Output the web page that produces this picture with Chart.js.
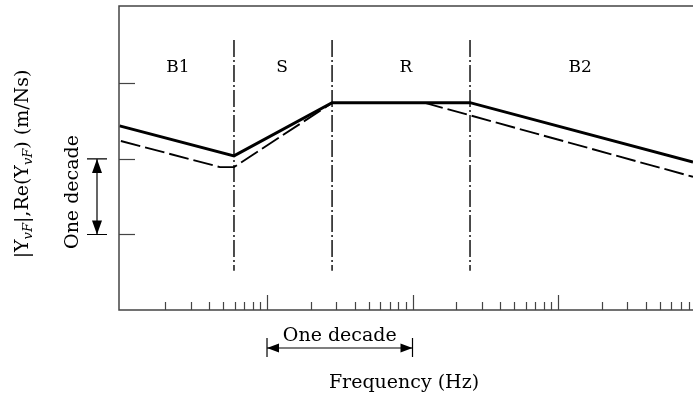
<!DOCTYPE html>
<html>
<head>
<meta charset="utf-8">
<script src="https://cdn.jsdelivr.net/npm/chart.js@4.4.1/dist/chart.umd.min.js"></script>
<style>
  html, body { margin: 0; padding: 0; background: #fff; }
  #wrap { width: 693px; height: 398px; }
</style>
</head>
<body>
<div id="wrap"><canvas id="mobility"></canvas></div>
<script>
// --- data (frequency in Hz, mobility in m/Ns) ---
const freqSolid = [9.7, 59.3, 280, 2485, 84700];
const mobSolid = [2.74, 1.10, 5.57, 5.57, 0.91];
const freqDashed = [9.9, 47.5, 59.3, 280, 1219, 84700];
const mobDashed = [1.73, 0.78, 0.78, 5.52, 5.52, 0.58];

const bandEdges = [59.3, 280, 2485];
const bandNames = ['B1', 'S', 'R', 'B2'];
const bandLabelFreq = [24.4, 127, 902, 14200];

const yTicks = [0.1, 1, 10];
const xMajorTicks = [100, 1000, 10000];
const xDecades = [10, 100, 1000, 10000];
const xMinorSteps = [2, 3, 4, 5, 6, 7, 8, 9];

const SERIF = '"DejaVu Serif", "Liberation Serif", serif';
const FRAME = '#444';

function pts(xs, ys) {
  return xs.map((x, i) => ({ x, y: ys[i] }));
}

// frame, ticks and annotations drawn with the chart's own scales
const figurePlugin = {
  id: 'figure',
  afterDraw(chart) {
    const { ctx, chartArea: a, scales: { x, y } } = chart;
    ctx.save();
    ctx.strokeStyle = FRAME;
    ctx.lineWidth = 1.5;
    ctx.beginPath();
    ctx.moveTo(a.right, a.top); ctx.lineTo(a.left, a.top);
    ctx.lineTo(a.left, a.bottom); ctx.lineTo(a.right, a.bottom);
    ctx.stroke();

    // y ticks, inward
    ctx.lineWidth = 1.2;
    yTicks.forEach(v => {
      const py = Math.round(y.getPixelForValue(v)) + 0.5;
      ctx.beginPath(); ctx.moveTo(a.left, py); ctx.lineTo(a.left + 16, py); ctx.stroke();
    });
    // x ticks, inward
    xDecades.forEach(d => xMinorSteps.forEach(m => {
      const px = Math.round(x.getPixelForValue(d * m)) + 0.5;
      if (px > a.right) return;
      ctx.beginPath(); ctx.moveTo(px, a.bottom); ctx.lineTo(px, a.bottom - 8); ctx.stroke();
    }));
    xMajorTicks.forEach(v => {
      const px = Math.round(x.getPixelForValue(v)) + 0.5;
      ctx.beginPath(); ctx.moveTo(px, a.bottom); ctx.lineTo(px, a.bottom - 15); ctx.stroke();
    });
    ctx.restore();

    ctx.save();
    ctx.fillStyle = '#000';
    ctx.strokeStyle = '#000';
    ctx.font = '17px ' + SERIF;
    ctx.textAlign = 'center';
    ctx.textBaseline = 'alphabetic';
    bandNames.forEach((n, i) => {
      ctx.fillText(n, x.getPixelForValue(bandLabelFreq[i]), 72);
    });

    // horizontal "one decade" marker under the axis
    ctx.font = '19px ' + SERIF;
    const x0 = x.getPixelForValue(100), x1 = x.getPixelForValue(1000);
    ctx.fillText('One decade', (x0 + x1) / 2, 341);
    hArrow(ctx, x0, x1, 348);
    ctx.fillText('Frequency (Hz)', 404, 388);

    // vertical "one decade" marker beside the axis
    const y0 = y.getPixelForValue(1), y1 = y.getPixelForValue(0.1);
    vArrow(ctx, 97, y0, y1);
    ctx.save();
    ctx.translate(78, 192);
    ctx.rotate(-Math.PI / 2);
    ctx.fillText('One decade', 0, 0);
    ctx.restore();

    // y axis title with italic subscripts
    ctx.save();
    ctx.translate(28, 164);
    ctx.rotate(-Math.PI / 2);
    const main = '19px ' + SERIF, sub = 'italic 13px ' + SERIF;
    const parts = [['|Y', main, 0], ['vF', sub, 4], ['|,Re(Y', main, 0], ['vF', sub, 4], [') (m/Ns)', main, 0]];
    let total = 0;
    parts.forEach(p => { ctx.font = p[1]; total += ctx.measureText(p[0]).width; });
    let cx = -total / 2;
    ctx.textAlign = 'left';
    parts.forEach(p => { ctx.font = p[1]; ctx.fillText(p[0], cx, p[2]); cx += ctx.measureText(p[0]).width; });
    ctx.restore();
    ctx.restore();
  }
};

function hArrow(ctx, x0, x1, yy) {
  ctx.lineWidth = 1.2;
  ctx.beginPath();
  ctx.moveTo(x0, yy); ctx.lineTo(x1, yy);
  ctx.moveTo(x0, yy - 10); ctx.lineTo(x0, yy + 9);
  ctx.moveTo(x1, yy - 10); ctx.lineTo(x1, yy + 9);
  ctx.stroke();
  ctx.beginPath();
  ctx.moveTo(x0, yy); ctx.lineTo(x0 + 12, yy - 4.5); ctx.lineTo(x0 + 12, yy + 4.5); ctx.closePath();
  ctx.moveTo(x1, yy); ctx.lineTo(x1 - 12, yy - 4.5); ctx.lineTo(x1 - 12, yy + 4.5); ctx.closePath();
  ctx.fill();
}

function vArrow(ctx, xx, y0, y1) {
  ctx.lineWidth = 1.2;
  ctx.beginPath();
  ctx.moveTo(xx, y0); ctx.lineTo(xx, y1);
  ctx.moveTo(xx - 10, y0); ctx.lineTo(xx + 10, y0);
  ctx.moveTo(xx - 10, y1); ctx.lineTo(xx + 10, y1);
  ctx.stroke();
  ctx.beginPath();
  ctx.moveTo(xx, y0); ctx.lineTo(xx - 5, y0 + 14); ctx.lineTo(xx + 5, y0 + 14); ctx.closePath();
  ctx.moveTo(xx, y1); ctx.lineTo(xx - 5, y1 - 14); ctx.lineTo(xx + 5, y1 - 14); ctx.closePath();
  ctx.fill();
}

const bandLines = bandEdges.map(f => ({
  data: [{ x: f, y: 37.7 }, { x: f, y: 0.033 }],
  borderColor: '#000',
  borderWidth: 1.4,
  borderDash: [17, 3, 2, 3],
}));

new Chart(document.getElementById('mobility'), {
  type: 'line',
  data: {
    datasets: [
      { data: pts(freqSolid, mobSolid), borderColor: '#000', borderWidth: 3 },
      { data: pts(freqDashed, mobDashed), borderColor: '#000', borderWidth: 1.9, borderDash: [20, 5] },
      ...bandLines,
    ],
  },
  options: {
    responsive: true, maintainAspectRatio: false, animation: false,
    layout: { padding: { left: 119, top: 6, right: 0, bottom: 88 } },
    elements: { point: { radius: 0 }, line: { tension: 0, borderCapStyle: 'butt' } },
    plugins: { legend: { display: false }, tooltip: { enabled: false } },
    scales: {
      x: { type: 'logarithmic', min: 9.61, max: 84700, display: false },
      y: { type: 'logarithmic', min: 0.01, max: 106, display: false },
    },
  },
  plugins: [figurePlugin],
});
</script>
</body>
</html>
